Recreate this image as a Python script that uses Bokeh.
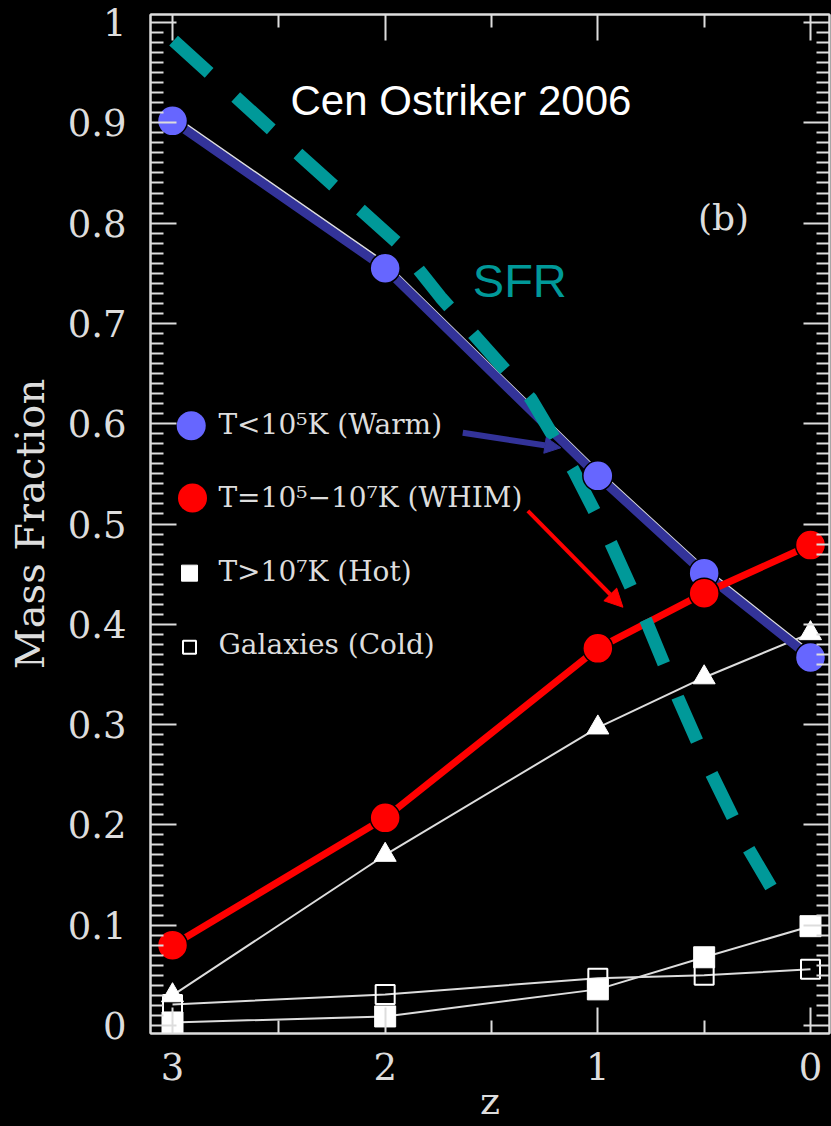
from bokeh.plotting import figure
from bokeh.models import Range1d, FixedTicker, Label, Arrow, NormalHead, LinearAxis
from bokeh.embed import file_html
from bokeh.resources import INLINE

# ---------------- data ----------------
z = [3, 2, 1, 0.5, 0]
warm = [0.902, 0.755, 0.548, 0.451, 0.367]      # T<1e5 K
whim = [0.080, 0.207, 0.376, 0.431, 0.479]      # T=1e5-1e7 K
tri = [0.030, 0.170, 0.297, 0.347, 0.391]       # unlabelled triangles
hot = [0.003, 0.009, 0.036, 0.068, 0.099]       # T>1e7 K
cold = [0.021, 0.031, 0.047, 0.050, 0.056]      # galaxies

sfr_z = [2.995, 2.398, 1.941, 1.739, 1.315, 1.113, 0.939, 0.774, 0.624, 0.468, 0.294, 0.186]
sfr = [0.982, 0.867, 0.780, 0.726, 0.625, 0.553, 0.481, 0.404, 0.327, 0.252, 0.177, 0.138]

x_ticks = [0, 1, 2, 3]
x_minor = [0.5, 1.5, 2.5]
y_ticks = [0, 0.1, 0.2, 0.3, 0.4, 0.5, 0.6, 0.7, 0.8, 0.9, 1.0]
y_tick_labels = ["0", "0.1", "0.2", "0.3", "0.4", "0.5", "0.6", "0.7", "0.8", "0.9", "1"]

legend_labels = ["T<10\u2075K (Warm)", "T=10\u2075\u221210\u2077K (WHIM)", "T>10\u2077K (Hot)", "Galaxies (Cold)"]
legend_marker_z = [2.912, 2.906, 2.92, 2.92]
legend_y = [0.598, 0.526, 0.451, 0.377]
legend_text_z = 2.784
legend_text_y = [0.599, 0.526, 0.453, 0.380]

warm_arrow = [1.635, 0.591, 1.174, 0.576]
whim_arrow = [1.329, 0.513, 0.882, 0.417]

# ---------------- style ----------------
NAVY = "#333399"
BLUE = "#6666ff"
RED = "#ff0000"
TEAL = "#009999"
FG = "#dddddd"
SERIF = "DejaVu Serif"

x0, x1 = 3.1035, -0.0894
y0, y1 = -0.008, 1.008

p = figure(width=831, height=1126, output_backend="svg", toolbar_location=None,
           x_range=Range1d(x0, x1), y_range=Range1d(y0, y1),
           x_axis_location=None, y_axis_location=None,
           min_border_left=150, min_border_right=2, min_border_top=14, min_border_bottom=93)
p.background_fill_color = "black"
p.border_fill_color = "black"
p.outline_line_color = FG
p.outline_line_width = 2
p.grid.visible = False
p.extra_y_ranges = {"shift": Range1d(y0 - 0.006, y1 - 0.006)}

yticker = FixedTicker(ticks=y_ticks,
                      minor_ticks=[round(i * 0.01, 2) for i in range(101) if i % 10 != 0])
xticker = FixedTicker(ticks=x_ticks, minor_ticks=x_minor)


def style_axis(ax, show_labels):
    ax.axis_line_color = FG
    ax.axis_line_width = 2
    ax.major_tick_line_color = FG
    ax.minor_tick_line_color = FG
    ax.major_tick_line_width = 2
    ax.minor_tick_line_width = 2
    ax.major_tick_in = 26
    ax.major_tick_out = 0
    ax.minor_tick_in = 13
    ax.minor_tick_out = 0
    ax.major_label_text_font = SERIF
    ax.axis_label_text_font = SERIF
    ax.axis_label_text_font_style = "normal"
    ax.axis_label_text_color = FG
    if show_labels:
        ax.major_label_text_color = FG
        ax.major_label_text_font_size = "37px"
    else:
        ax.major_label_text_color = None
        ax.major_label_text_font_size = "1px"
        ax.major_label_standoff = 0


left = LinearAxis(ticker=yticker)
style_axis(left, True)
left.major_label_overrides = dict(zip(y_ticks, y_tick_labels))
left.major_label_standoff = 24
left.axis_label = "Mass Fraction"
left.axis_label_text_font_size = "40px"
left.axis_label_standoff = 12
p.add_layout(left, "left")

right = LinearAxis(ticker=yticker)
style_axis(right, False)
p.add_layout(right, "right")

bottom = LinearAxis(ticker=xticker)
style_axis(bottom, True)
bottom.major_label_standoff = 19
bottom.axis_label = "z"
bottom.axis_label_text_font_size = "38px"
bottom.axis_label_standoff = -4
p.add_layout(bottom, "below")

top = LinearAxis(ticker=xticker)
style_axis(top, False)
p.add_layout(top, "above")

# thin white lines (original b/w plot)
p.line(z, tri, line_color=FG, line_width=2)
p.line(z, hot, line_color=FG, line_width=2)
p.line(z, cold, line_color=FG, line_width=2)
p.line(z, warm, line_color=FG, line_width=2, y_range_name="shift")

# coloured overlays
p.line(z, warm, line_color=NAVY, line_width=9)
p.line(z, whim, line_color=RED, line_width=7)
p.line(sfr_z, sfr, line_color=TEAL, line_width=13, line_dash="48 36")

# markers
p.scatter(z, tri, marker="triangle", size=22, fill_color="white", line_color="white")
p.scatter(z, hot, marker="square", size=21, fill_color="white", line_color="white")
p.scatter(z, cold, marker="square", size=19, fill_color=None, line_color="white", line_width=2)
p.scatter(z, warm, marker="circle", size=30, fill_color=BLUE, line_color="black", line_width=1.5)
p.scatter(z, whim, marker="circle", size=30, fill_color=RED, line_color="black", line_width=1.5)

# legend
p.scatter(legend_marker_z[0:1], legend_y[0:1], marker="circle", size=29, fill_color=BLUE, line_color=None)
p.scatter(legend_marker_z[1:2], legend_y[1:2], marker="circle", size=29, fill_color=RED, line_color=None)
p.scatter(legend_marker_z[2:3], legend_y[2:3], marker="square", size=16, fill_color="white", line_color="white")
p.scatter(legend_marker_z[3:4], legend_y[3:4], marker="square", size=13, fill_color=None, line_color="white", line_width=2)
for lab, ly in zip(legend_labels, legend_text_y):
    p.add_layout(Label(x=legend_text_z, y=ly, text=lab, text_font=SERIF, text_font_size="28px",
                       text_color=FG, text_baseline="middle"))

# arrows
p.add_layout(Arrow(end=NormalHead(size=16, fill_color=NAVY, line_color=NAVY),
                   x_start=warm_arrow[0], y_start=warm_arrow[1], x_end=warm_arrow[2], y_end=warm_arrow[3],
                   line_color=NAVY, line_width=6))
p.add_layout(Arrow(end=NormalHead(size=18, fill_color=RED, line_color=RED),
                   x_start=whim_arrow[0], y_start=whim_arrow[1], x_end=whim_arrow[2], y_end=whim_arrow[3],
                   line_color=RED, line_width=4))

# texts
p.add_layout(Label(x=2.445, y=0.922, text="Cen Ostriker 2006", text_font="Liberation Sans",
                   text_font_size="42px", text_color="white", text_baseline="middle"))
p.add_layout(Label(x=1.588, y=0.743, text="SFR", text_font="Liberation Sans",
                   text_font_size="47px", text_color=TEAL, text_baseline="middle"))
p.add_layout(Label(x=0.529, y=0.806, text="(b)", text_font=SERIF,
                   text_font_size="36px", text_color=FG, text_baseline="middle"))

template = """
{% block postamble %}
<style>html, body { background-color: #000000; }</style>
{% endblock %}
"""

open("out.html", "w").write(file_html(p, INLINE, template=template))
